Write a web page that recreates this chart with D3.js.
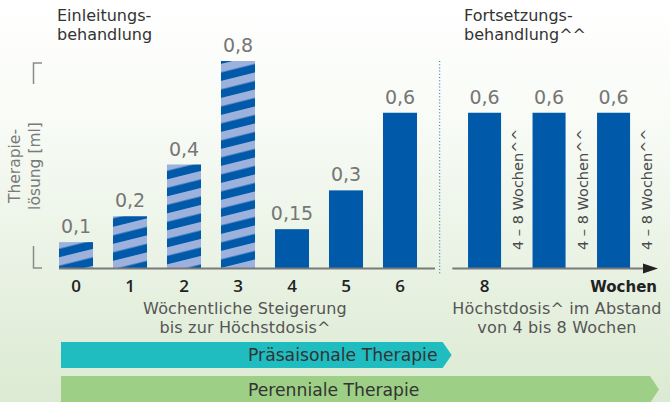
<!DOCTYPE html>
<html><head><meta charset="utf-8">
<script src="https://cdn.jsdelivr.net/npm/d3@7"></script>
<style>html,body{margin:0;padding:0;background:#fff;}svg{display:block;font-family:"DejaVu Sans",sans-serif;}</style>
</head><body>
<script>
const weeksInit = ["0","1","2","3","4","5","6"];
const doseInit = [0.1, 0.2, 0.4, 0.8, 0.15, 0.3, 0.6];
const hatchedInit = [true, true, true, true, false, false, false];
const weeksCont = ["8", "b", "c"];
const tickCont = ["8", "", ""];
const doseCont = [0.6, 0.6, 0.6];
const intervalLabel = "4 – 8 Wochen^^";
const yTitle = ["Therapie-", "lösung [ml]"];
const titleInit = ["Einleitungs-", "behandlung"];
const titleCont = ["Fortsetzungs-", "behandlung^^"];
const descInit = ["Wöchentliche Steigerung", "bis zur Höchstdosis^"];
const descCont = ["Höchstdosis^ im Abstand", "von 4 bis 8 Wochen"];
const bandLabels = ["Präsaisonale Therapie", "Perenniale Therapie"];

const W = 670, H = 402;
const svg = d3.select("body").append("svg").attr("width", W).attr("height", H);
const defs = svg.append("defs");
const bg = defs.append("linearGradient").attr("id","bg").attr("x1",0).attr("y1",0).attr("x2",0).attr("y2",1);
bg.append("stop").attr("offset","0").attr("stop-color","#ffffff");
bg.append("stop").attr("offset","0.3").attr("stop-color","#f8fbf6");
bg.append("stop").attr("offset","1").attr("stop-color","#dbead2");
svg.append("rect").attr("width",W).attr("height",H).attr("fill","url(#bg)");

const pat = defs.append("pattern").attr("id","hatch").attr("patternUnits","userSpaceOnUse")
  .attr("width",40).attr("height",17).attr("patternTransform","skewY(-14)");
pat.append("rect").attr("width",40).attr("height",17).attr("fill","#0059a9");
pat.append("rect").attr("y",0).attr("width",40).attr("height",8.5).attr("fill","#9cb2dd");

const blue = "#0059a9";
const y = d3.scaleLinear().domain([0, 0.8]).range([268, 61]);
const x1 = d3.scaleBand().domain(weeksInit).range([49, 427]).paddingInner(0.37).paddingOuter(0.185);
const x2 = d3.scaleBand().domain(weeksCont).range([452.3, 645.8]).paddingInner(0.488).paddingOuter(0.244);
const fmt = v => String(v).replace(".", ",");
const divX = (x1.range()[1] + x2.range()[0]) / 2;

// bars
const g1 = svg.append("g");
g1.selectAll("rect").data(doseInit).join("rect")
  .attr("x",(d,i)=>x1(weeksInit[i])).attr("width",x1.bandwidth())
  .attr("y",d=>y(d)).attr("height",d=>y(0)-y(d))
  .attr("fill",(d,i)=>hatchedInit[i] ? "url(#hatch)" : blue);
g1.selectAll("text").data(doseInit).join("text")
  .attr("x",(d,i)=>x1(weeksInit[i])+x1.bandwidth()/2).attr("y",d=>y(d)-9)
  .attr("text-anchor","middle").attr("font-size",19).attr("fill","#767676").text(fmt);

const g2 = svg.append("g");
g2.selectAll("rect").data(doseCont).join("rect")
  .attr("x",(d,i)=>x2(weeksCont[i])).attr("width",x2.bandwidth())
  .attr("y",d=>y(d)).attr("height",d=>y(0)-y(d)).attr("fill",blue);
g2.selectAll("text.v").data(doseCont).join("text").attr("class","v")
  .attr("x",(d,i)=>x2(weeksCont[i])+x2.bandwidth()/2).attr("y",d=>y(d)-9)
  .attr("text-anchor","middle").attr("font-size",19).attr("fill","#767676").text(fmt);
g2.selectAll("text.iv").data(weeksCont).join("text").attr("class","iv")
  .attr("transform",d=>`translate(${x2(d)+x2.bandwidth()+22},250) rotate(-90)`)
  .attr("font-size",14.5).attr("fill","#4a4a4a").text(intervalLabel);

// axis lines
svg.append("line").attr("x1",x1.range()[0]+10).attr("x2",x1.range()[1]+8).attr("y1",268.5).attr("y2",268.5)
  .attr("stroke","#7a7a7a").attr("stroke-width",2);
const tipX = 658;
svg.append("line").attr("x1",x2.range()[0]).attr("x2",tipX-10).attr("y1",268.5).attr("y2",268.5)
  .attr("stroke","#7a7a7a").attr("stroke-width",2);
svg.append("path").attr("d",`M${tipX-15},263.5L${tipX},268.5L${tipX-15},273.5Z`).attr("fill","#222");
svg.append("line").attr("x1",divX).attr("x2",divX).attr("y1",61).attr("y2",274)
  .attr("stroke","#3b7fcc").attr("stroke-width",1.2).attr("stroke-dasharray","1,2.2");

// tick labels via axis
const ax1 = d3.axisBottom(x1).tickSize(0).tickPadding(0);
const ga1 = svg.append("g").attr("transform","translate(0,276)").call(ax1);
const ax2 = d3.axisBottom(x2).tickSize(0).tickPadding(0).tickFormat((d,i)=>tickCont[i]);
const ga2 = svg.append("g").attr("transform","translate(0,276)").call(ax2);
[ga1,ga2].forEach(g=>{
  g.select(".domain").remove();
  g.selectAll("text").attr("font-size",17).attr("font-weight",600).attr("fill","#222")
    .attr("font-family","'Open Sans',sans-serif").attr("dy","0.95em");
});
svg.append("text").attr("x",657).attr("y",292).attr("text-anchor","end").attr("font-size",15)
  .attr("font-weight",700).attr("fill","#222").text("Wochen");

// y bracket
const yb = svg.append("g").attr("stroke","#8a8a8a").attr("stroke-width",1.5).attr("fill","none");
yb.append("path").attr("d",`M42,${y(0.8)+2}H33.5V${y(0.8)+23}`);
yb.append("path").attr("d",`M33.5,${y(0)-22}V${y(0)}H42`);
yTitle.forEach((t,i)=>{
  svg.append("text").attr("transform",`translate(${20+i*19.5},166) rotate(-90)`)
    .attr("text-anchor","middle").attr("font-size",15.5).attr("fill","#7a7a7a").text(t);
});

// titles
titleInit.forEach((t,i)=>svg.append("text").attr("x",57).attr("y",21+i*19).attr("font-size",16).attr("fill","#333").text(t));
titleCont.forEach((t,i)=>svg.append("text").attr("x",464).attr("y",21+i*19).attr("font-size",16).attr("fill","#333").text(t));

// descriptions
const descAttrs = (sel)=>sel.attr("text-anchor","middle").attr("font-size",16).attr("letter-spacing",0.15).attr("fill","#555");
descInit.forEach((t,i)=>descAttrs(svg.append("text").attr("x",245).attr("y",314+i*19)).text(t));
descCont.forEach((t,i)=>descAttrs(svg.append("text").attr("x",557).attr("y",314+i*19)).text(t));

// therapy bands
const bx0 = x1(weeksInit[0]) + 2;
const bands = [
  {y0:342, h:26, x1:divX+3, tip:9, fill:"#1fbcc0", label:bandLabels[0]},
  {y0:376, h:27, x1:tipX-8, tip:9, fill:"#9dcf86", label:bandLabels[1]}
];
bands.forEach(b=>{
  svg.append("path").attr("d",`M${bx0},${b.y0}H${b.x1}L${b.x1+b.tip},${b.y0+b.h/2}L${b.x1},${b.y0+b.h}H${bx0}Z`).attr("fill",b.fill);
  svg.append("text").attr("x",248).attr("y",b.y0+b.h/2+6).attr("font-size",17.2).attr("fill","#333").text(b.label);
});
</script>
</body></html>
